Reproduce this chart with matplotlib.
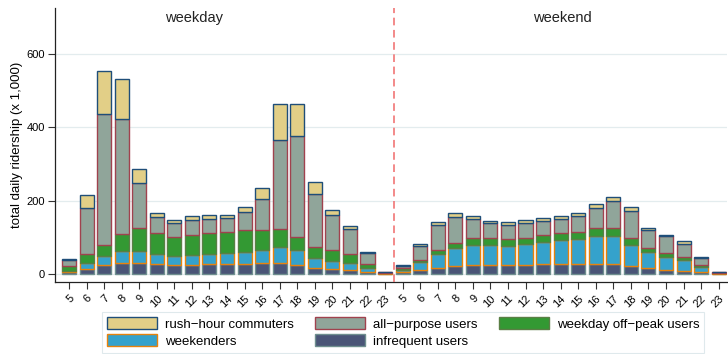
import matplotlib
matplotlib.use("Agg")
import matplotlib.pyplot as plt
import numpy as np

plt.rcParams['font.family'] = ['Liberation Sans', 'DejaVu Sans']

hours = list(range(5, 24))
hour_labels = [str(h) for h in hours]

# Ridership by rider segment (x 1,000), hours 5..23
weekday_infrequent = [5, 14, 25, 30, 29, 26, 23, 23, 27, 28, 28, 29, 29, 24, 16, 13, 11, 5, 1]
weekday_weekenders = [4, 16, 24, 32, 34, 29, 26, 28, 27, 29, 31, 36, 45, 40, 27, 23, 20, 11, 1]
weekday_offpeak    = [13, 25, 30, 48, 62, 56, 51, 54, 58, 57, 61, 55, 48, 37, 31, 29, 24, 12, 1]
weekday_allpurpose = [16, 125, 356, 312, 124, 45, 38, 41, 37, 38, 49, 84, 242, 275, 144, 96, 68, 28, 2]
weekday_rushhour   = [2, 35, 119, 109, 36, 9, 8, 11, 12, 10, 13, 31, 100, 87, 32, 14, 9, 4, 0]

weekend_infrequent = [5, 11, 16, 22, 24, 24, 23, 24, 26, 26, 27, 28, 27, 21, 15, 11, 8, 5, 1]
weekend_weekenders = [6, 22, 38, 48, 55, 55, 53, 57, 60, 66, 68, 76, 77, 59, 44, 36, 29, 13, 1]
weekend_offpeak    = [5, 5, 11, 14, 18, 18, 19, 16, 20, 19, 20, 21, 21, 17, 11, 11, 10, 6, 0]
weekend_allpurpose = [6, 39, 68, 72, 53, 41, 39, 42, 39, 39, 42, 54, 73, 74, 50, 45, 36, 20, 2]
weekend_rushhour   = [3, 6, 9, 11, 7, 7, 7, 7, 7, 7, 9, 11, 13, 11, 6, 4, 6, 3, 0]

segments = [
    ("infrequent users",      weekday_infrequent, weekend_infrequent, "#4a5577", "#6f8f8f"),
    ("weekenders",            weekday_weekenders, weekend_weekenders, "#35a2cc", "#e8820c"),
    ("weekday off\u2212peak users", weekday_offpeak, weekend_offpeak, "#339933", "#5a7f45"),
    ("all\u2212purpose users", weekday_allpurpose, weekend_allpurpose, "#90a59a", "#a0424e"),
    ("rush\u2212hour commuters", weekday_rushhour, weekend_rushhour, "#e2cf87", "#1f4e79"),
]

n = len(hours)
x = np.arange(2 * n)

fig = plt.figure(figsize=(7.28, 3.54), dpi=100)
ax = fig.add_axes([0.0755, 0.2034, 0.9225, 0.7736])

bottom = np.zeros(2 * n)
handles = {}
for name, wd, we, fc, ec in segments:
    vals = np.array(wd + we, dtype=float)
    b = ax.bar(x, vals, width=0.8, bottom=bottom, color=fc, edgecolor=ec,
               linewidth=1.0, label=name, zorder=3)
    handles[name] = b
    bottom += vals

ax.axvline(n - 0.5, color="#f06a6a", linestyle=(0, (5, 3)), linewidth=1.1, zorder=4)

ax.text(7.1, 698, "weekday", ha="center", va="center", fontsize=10.5, color="#222222")
ax.text(28.1, 698, "weekend", ha="center", va="center", fontsize=10.5, color="#222222")

ax.set_xlim(-0.8, 37.45)
ax.set_ylim(-22, 725)
ax.set_yticks([0, 200, 400, 600])
ax.set_yticklabels(["0", "200", "400", "600"], fontsize=8)
ax.set_xticks(x)
ax.set_xticklabels(hour_labels * 2, rotation=45, ha="right", rotation_mode="anchor", fontsize=8)
ax.tick_params(axis="x", length=5, width=0.8, color="#333333", pad=3)
ax.tick_params(axis="y", length=5, width=0.8, color="#333333", pad=2)
ax.set_ylabel("total daily ridership (x 1,000)", fontsize=9.5, labelpad=3)

ax.grid(axis="y", color="#e3ecee", linewidth=0.9, zorder=0)
ax.set_axisbelow(True)
for s in ["top", "right"]:
    ax.spines[s].set_visible(False)
for s in ["left", "bottom"]:
    ax.spines[s].set_color("#222222")
    ax.spines[s].set_linewidth(0.9)

order = ["rush\u2212hour commuters", "weekenders", "all\u2212purpose users",
         "infrequent users", "weekday off\u2212peak users"]
leg = fig.legend([handles[k] for k in order], order, loc="center",
                 bbox_to_anchor=(0.5536, 0.0607), ncol=3, fontsize=9.5, frameon=True,
                 fancybox=False, edgecolor="#d8e4e8", handlelength=3.8,
                 handleheight=1.0, handletextpad=0.6, columnspacing=1.6,
                 labelspacing=0.3, borderpad=0.4)
leg.get_frame().set_linewidth(0.8)

fig.savefig("out.png", dpi=100)
